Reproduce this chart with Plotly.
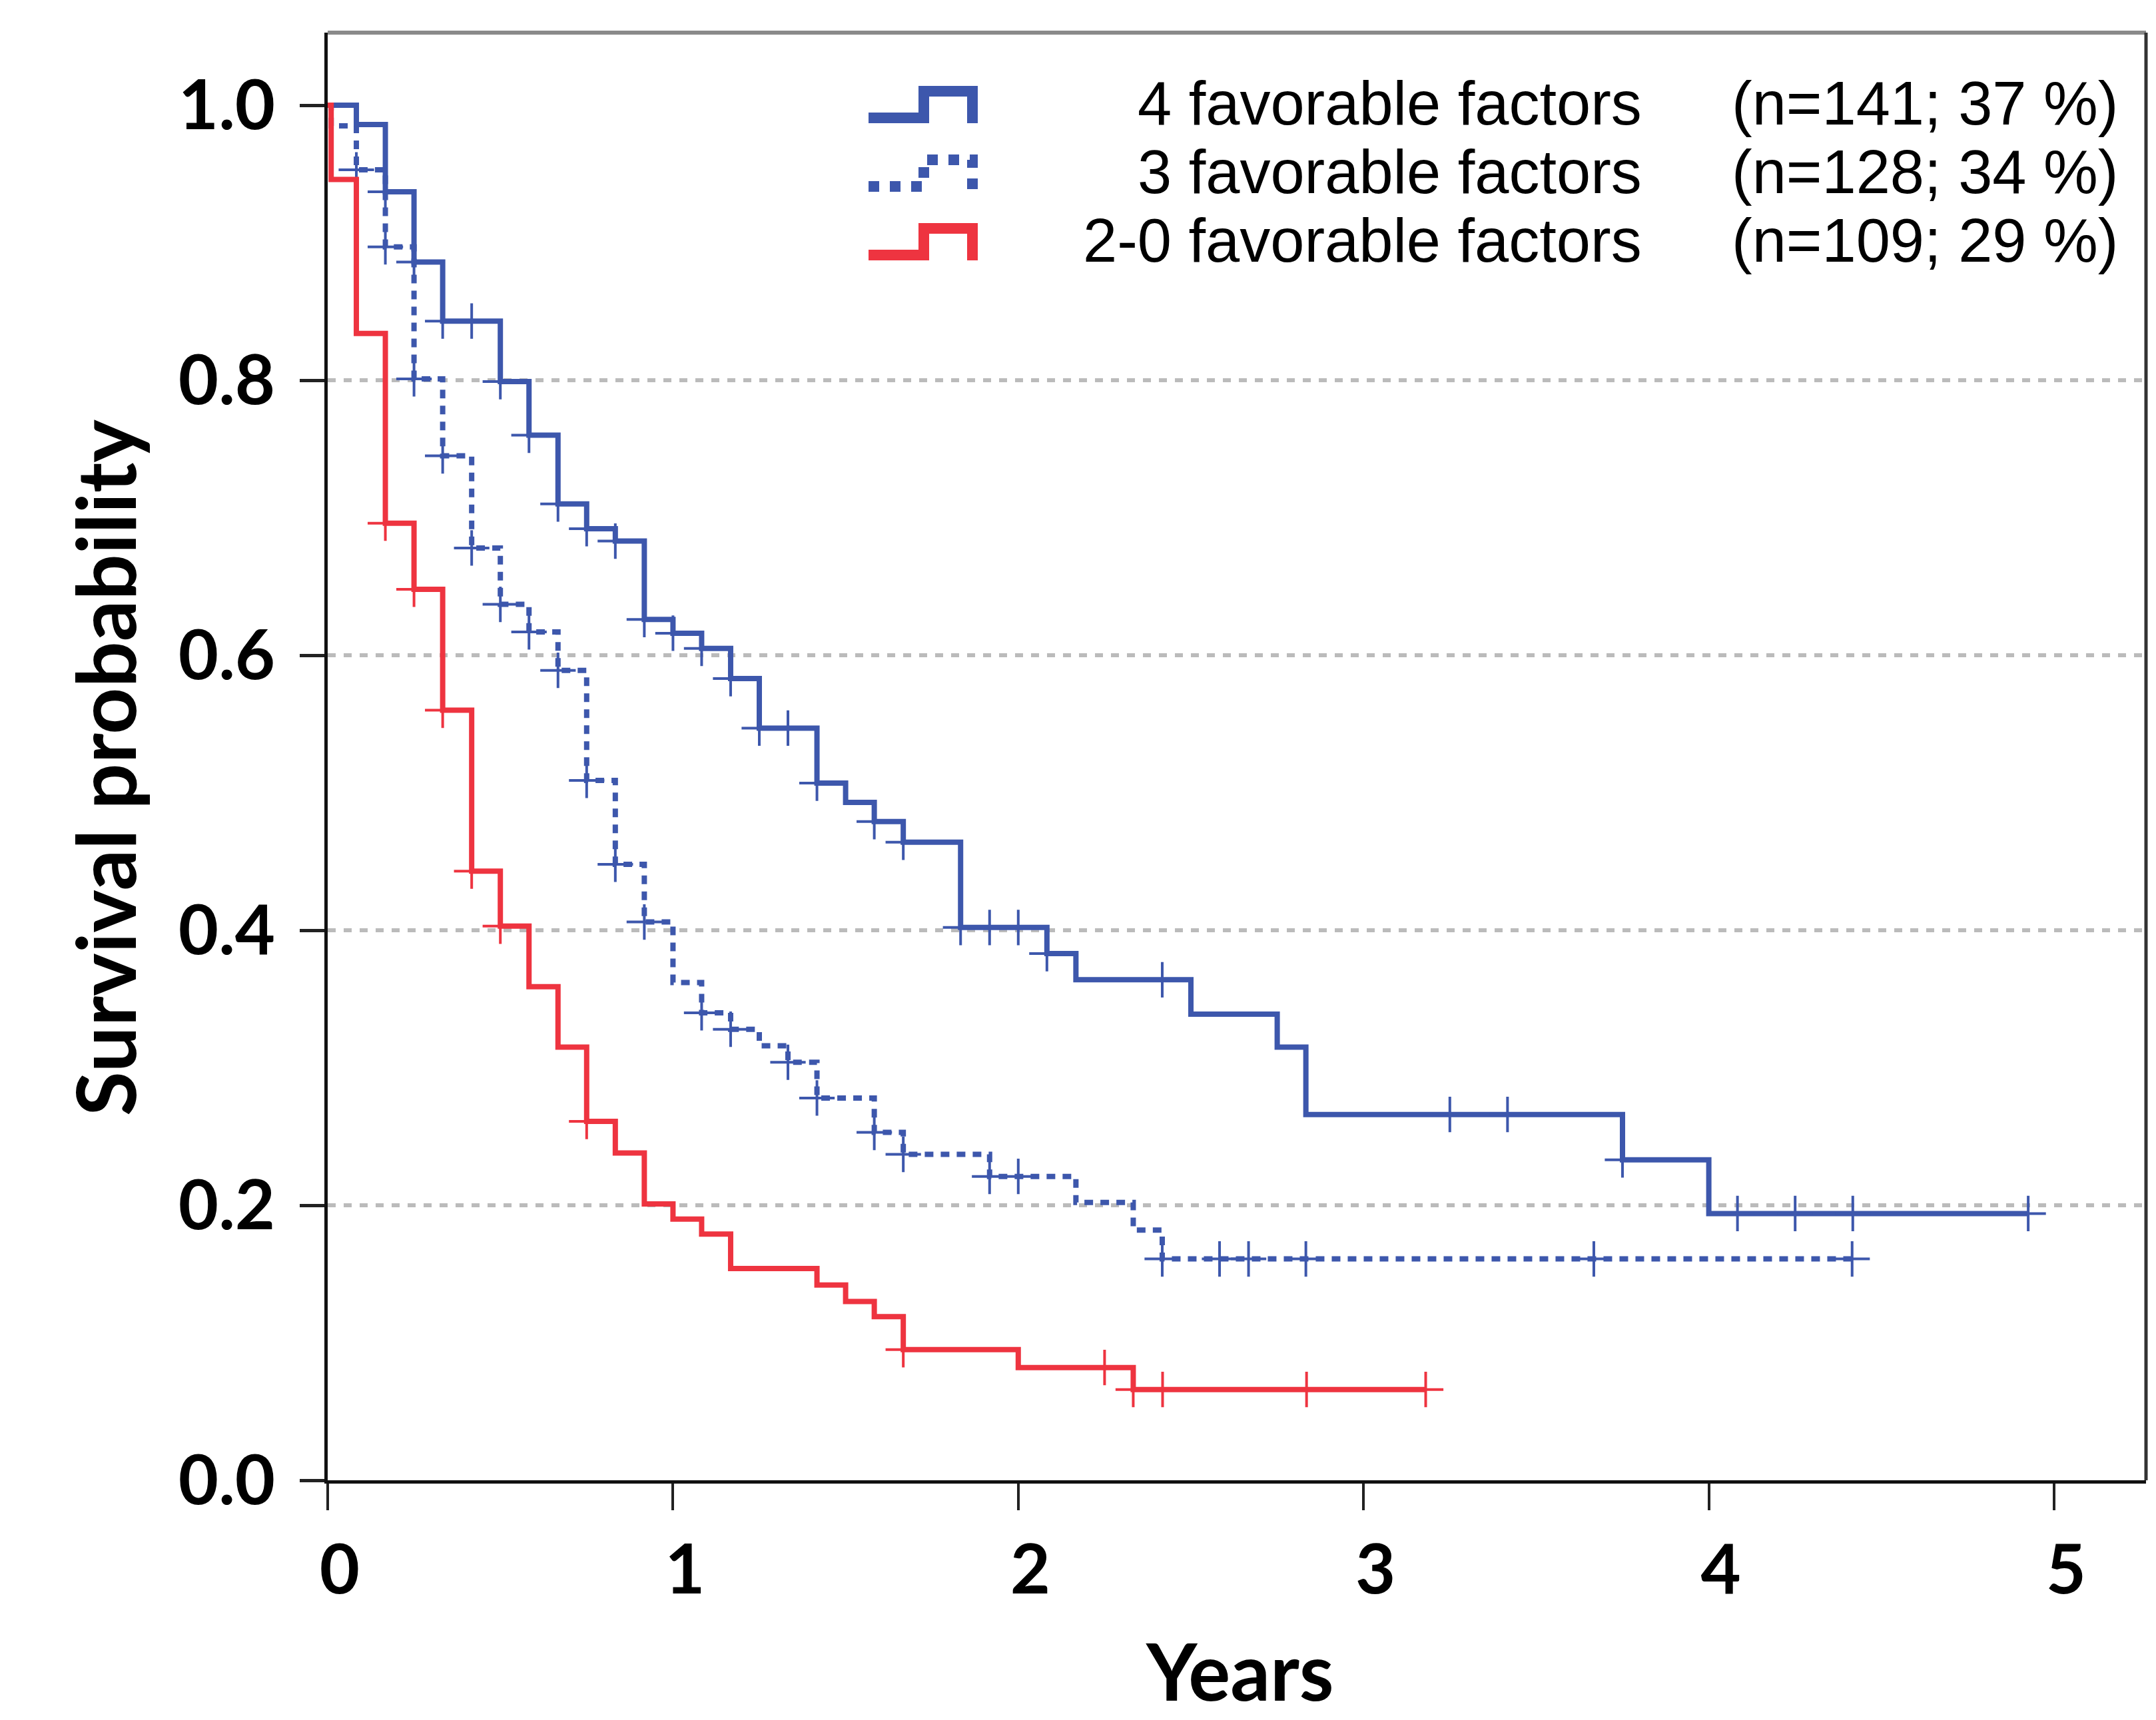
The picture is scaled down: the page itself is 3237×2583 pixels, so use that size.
import plotly.graph_objects as go

# ---------------- data ----------------
# 4 favorable factors (solid blue)
t4 = [0, 0.083, 0.167, 0.25, 0.333, 0.5, 0.583, 0.667, 0.75, 0.833, 0.917, 1.0, 1.083, 1.167,
      1.25, 1.417, 1.5, 1.583, 1.667, 1.833, 2.083, 2.167, 2.5, 2.75, 2.833, 3.75, 4.0, 4.925]
s4 = [1.0, 0.986, 0.937, 0.886, 0.843, 0.799, 0.760, 0.710, 0.692, 0.683, 0.626, 0.616, 0.605, 0.583,
      0.547, 0.507, 0.493, 0.479, 0.464, 0.402, 0.383, 0.364, 0.339, 0.315, 0.266, 0.233, 0.194, 0.194]
c4_t = [0.167, 0.25, 0.333, 0.417, 0.5, 0.583, 0.667, 0.75, 0.833, 0.917, 1.0, 1.083, 1.167, 1.25, 1.333,
        1.417, 1.583, 1.667, 1.833, 1.917, 2.0, 2.083, 2.417, 3.25, 3.417, 3.75, 4.083, 4.25, 4.417, 4.925]
c4_s = [0.937, 0.886, 0.843, 0.843, 0.799, 0.760, 0.710, 0.692, 0.683, 0.626, 0.616, 0.605, 0.583, 0.547, 0.547,
        0.507, 0.479, 0.464, 0.402, 0.402, 0.402, 0.383, 0.364, 0.266, 0.266, 0.233, 0.194, 0.194, 0.194, 0.194]

# 3 favorable factors (dotted blue)
t3 = [0, 0.01, 0.083, 0.167, 0.25, 0.333, 0.417, 0.5, 0.583, 0.667, 0.75, 0.833, 0.917, 1.0, 1.083,
      1.167, 1.25, 1.333, 1.417, 1.583, 1.667, 1.917, 2.167, 2.333, 2.417, 4.415]
s3 = [1.0, 0.985, 0.953, 0.897, 0.801, 0.745, 0.678, 0.637, 0.617, 0.589, 0.509, 0.448, 0.406, 0.362, 0.340,
      0.328, 0.316, 0.304, 0.278, 0.253, 0.237, 0.221, 0.202, 0.182, 0.161, 0.161]
c3_t = [0.083, 0.167, 0.25, 0.333, 0.417, 0.5, 0.583, 0.667, 0.75, 0.833, 0.917, 1.083, 1.167, 1.333, 1.417,
        1.583, 1.667, 1.917, 2.0, 2.417, 2.583, 2.667, 2.833, 3.667, 4.415]
c3_s = [0.953, 0.897, 0.801, 0.745, 0.678, 0.637, 0.617, 0.589, 0.509, 0.448, 0.406, 0.340, 0.328, 0.304, 0.278,
        0.253, 0.237, 0.221, 0.221, 0.161, 0.161, 0.161, 0.161, 0.161, 0.161]

# 2-0 favorable factors (solid red)
t2 = [0, 0.01, 0.083, 0.167, 0.25, 0.333, 0.417, 0.5, 0.583, 0.667, 0.75, 0.833, 0.917, 1.0, 1.083,
      1.167, 1.417, 1.5, 1.583, 1.667, 2.0, 2.333, 3.18]
s2 = [1.0, 0.946, 0.834, 0.696, 0.648, 0.560, 0.443, 0.403, 0.359, 0.315, 0.261, 0.238, 0.201, 0.190, 0.179,
      0.154, 0.142, 0.130, 0.119, 0.095, 0.082, 0.066, 0.066]
c2_t = [0.167, 0.25, 0.333, 0.417, 0.5, 0.75, 1.667, 2.25, 2.333, 2.418, 2.835, 3.18]
c2_s = [0.696, 0.648, 0.560, 0.443, 0.403, 0.261, 0.095, 0.082, 0.066, 0.066, 0.066, 0.066]

group_names = ["4 favorable factors", "3 favorable factors", "2-0 favorable factors"]
group_counts = ["(n=141; 37 %)", "(n=128; 34 %)", "(n=109; 29 %)"]

x_ticks = [0, 1, 2, 3, 4, 5]
y_ticks = [0.0, 0.2, 0.4, 0.6, 0.8, 1.0]
y_ticklabels = ["0.0", "0.2", "0.4", "0.6", "0.8", "1.0"]
grid_vals = [0.2, 0.4, 0.6, 0.8]

# ---------------- styling / layout ----------------
W, H = 3237, 2583
L, R, T, B = 492, 3222, 49, 2223
PX_PER_YEAR = 518.4
PX_PER_UNIT = 2065.0
XMAX = (R - L) / PX_PER_YEAR
YMAX = (B - T) / PX_PER_UNIT

BLUE = "#3D57AC"
RED = "#EE3440"
FONT = "Lato, 'Open Sans', sans-serif"
LEG_FONT = "'Liberation Sans', Arial, sans-serif"


def px(x):
    return (x - L) / (R - L)


def py(y):
    return (B - y) / (B - T)


fig = go.Figure()

series = [
    (t4, s4, c4_t, c4_s, BLUE, "solid"),
    (t3, s3, c3_t, c3_s, BLUE, "13px,11px"),
    (t2, s2, c2_t, c2_s, RED, "solid"),
]
for tt, ss, ct, cs, col, dash in series:
    fig.add_trace(go.Scatter(x=tt, y=ss, mode="lines", line=dict(color=col, width=8, shape="hv", dash=dash),
                             showlegend=False, hoverinfo="skip"))
    fig.add_trace(go.Scatter(x=ct, y=cs, mode="markers",
                             marker=dict(symbol="cross-thin", size=38, color=col,
                                         line=dict(color=col, width=4)),
                             showlegend=False, hoverinfo="skip"))

# grid-only overlay axis (gridlines at 0.2..0.8)
fig.add_trace(go.Scatter(x=[None], y=[None], yaxis="y2", showlegend=False))

shapes = []
# top and right frame
shapes.append(dict(type="line", xref="paper", yref="paper", x0=0, x1=1, y0=1, y1=1,
                   line=dict(color="#8a8a8a", width=6)))
shapes.append(dict(type="line", xref="paper", yref="paper", x0=1, x1=1, y0=0, y1=1,
                   line=dict(color="#333333", width=5)))

# legend icons and text
row_y = [155, 258, 361]
icon_cols = [BLUE, BLUE, RED]
icon_dash = ["solid", "dot", "solid"]
annotations = []
for i in range(3):
    yc = row_y[i]
    path = "M {:.5f},{:.5f} L {:.5f},{:.5f} L {:.5f},{:.5f} L {:.5f},{:.5f} L {:.5f},{:.5f}".format(
        px(1304), py(yc + 22), px(1387), py(yc + 22), px(1387), py(yc - 18), px(1460), py(yc - 18),
        px(1460), py(yc + 30))
    shapes.append(dict(type="path", xref="paper", yref="paper", path=path,
                       line=dict(color=icon_cols[i], width=16, dash=icon_dash[i])))
    annotations.append(dict(xref="paper", yref="paper", x=px(2467), y=py(yc), text=group_names[i],
                            showarrow=False, xanchor="right", yanchor="middle",
                            font=dict(family=LEG_FONT, size=92, color="black")))
    annotations.append(dict(xref="paper", yref="paper", x=px(3182), y=py(yc), text=group_counts[i],
                            showarrow=False, xanchor="right", yanchor="middle",
                            font=dict(family=LEG_FONT, size=92, color="black")))

# axis titles
annotations.append(dict(xref="paper", yref="paper", x=px(157), y=py(1153), text="<b>Survival probability</b>",
                        textangle=-90, showarrow=False, xanchor="center", yanchor="middle",
                        font=dict(family=FONT, size=122, color="black")))
annotations.append(dict(xref="paper", yref="paper", x=px(1861), y=py(2508), text="<b>Years</b>",
                        showarrow=False, xanchor="center", yanchor="middle",
                        font=dict(family=FONT, size=118, color="black")))

fig.update_layout(
    width=W, height=H,
    margin=dict(l=L, r=W - R, t=T, b=H - B, pad=0),
    paper_bgcolor="white", plot_bgcolor="white",
    shapes=shapes, annotations=annotations,
    xaxis=dict(range=[0, XMAX], tickvals=x_ticks, ticktext=[str(v) for v in x_ticks],
               showgrid=False, zeroline=False, showline=True, linecolor="#111111", linewidth=5,
               ticks="outside", ticklen=40, tickwidth=4, tickcolor="#222222",
               ticklabelstandoff=0, ticklabelshift=18,
               tickfont=dict(family=FONT, size=104, color="black", weight="bold")),
    yaxis=dict(range=[0, YMAX], tickvals=y_ticks, ticktext=y_ticklabels,
               showgrid=False, zeroline=False, showline=True, linecolor="#111111", linewidth=5,
               ticks="outside", ticklen=37, tickwidth=5, tickcolor="#222222",
               ticklabelstandoff=16,
               tickfont=dict(family=FONT, size=104, color="black", weight="bold")),
    yaxis2=dict(range=[0, YMAX], overlaying="y", side="left", tickvals=grid_vals, showticklabels=False,
                showgrid=True, gridcolor="#BBBBBB", gridwidth=6, griddash="12px,12px",
                zeroline=False, showline=False, ticks=""),
)

fig.write_html("out.html")
